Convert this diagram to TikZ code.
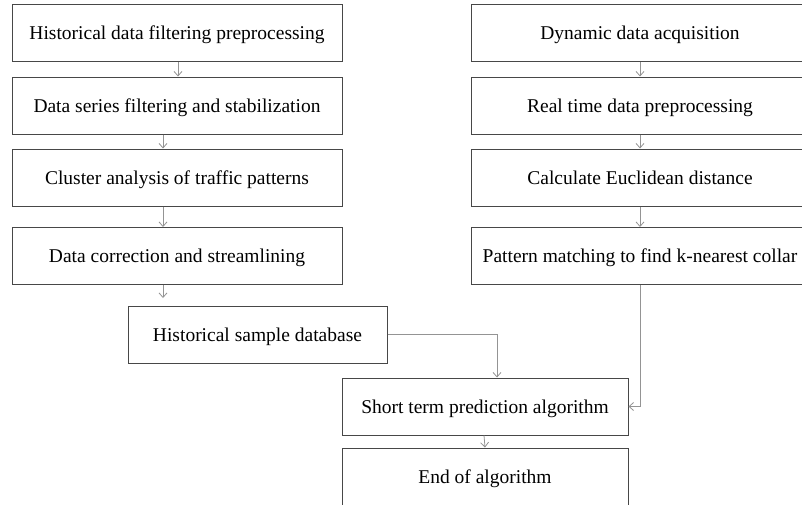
\documentclass[tikz,border=0pt]{standalone}
\usepackage{fontspec}
\setmainfont{Liberation Serif}
\usetikzlibrary{arrows.meta}
\begin{document}
\begin{tikzpicture}[x=1pt,y=-1pt,
  box/.style={draw=black!72,line width=1pt,inner sep=0pt,minimum height=57pt,text height=13.5pt,text depth=0pt,font=\fontsize{19.5}{22}\selectfont,text=black},
  arr/.style={draw=black!42,line width=0.8pt,-{Straight Barb[length=4.5pt,width=8pt]}}]
\useasboundingbox (0,0) rectangle (802,504);
\clip (0,0) rectangle (802,504);
\node[box,minimum width=330pt] (b1) at (177,33) {Historical data filtering preprocessing};
\node[box,minimum width=330pt] (b2) at (177,105.5) {Data series filtering and stabilization};
\node[box,minimum width=330pt] (b3) at (177,177.5) {Cluster analysis of traffic patterns};
\node[box,minimum width=330pt] (b4) at (177,256) {Data correction and streamlining};
\node[box,minimum width=259pt] (hist) at (257.5,334.5) {Historical sample database};
\node[box,minimum width=338pt] (r1) at (640,33) {Dynamic data acquisition};
\node[box,minimum width=338pt] (r2) at (640,105.5) {Real time data preprocessing};
\node[box,minimum width=338pt] (r3) at (640,177.5) {Calculate Euclidean distance};
\node[box,minimum width=338pt] (r4) at (640,256) {Pattern matching to find k-nearest collar};
\node[box,minimum width=286pt] (short) at (485,406.5) {Short term prediction algorithm};
\node[box,minimum width=286pt] (end) at (485,476.5) {End of algorithm};
\coordinate (h4) at (163,298);
\draw[arr] ([xshift=1pt]b1.south) -- ([xshift=1pt]b2.north);
\draw[arr] ([xshift=-14pt]b2.south) -- ([xshift=-14pt]b3.north);
\draw[arr] ([xshift=-14pt]b3.south) -- ([xshift=-14pt]b4.north);
\draw[arr] ([xshift=-14pt]b4.south) -- (h4);
\draw[arr] (r1.south) -- (r2.north);
\draw[arr] (r2.south) -- (r3.north);
\draw[arr] (r3.south) -- (r4.north);
\draw[arr] (hist.east) -| ([xshift=12pt]short.north);
\draw[arr] (r4.south) |- (short.east);
\draw[arr] ([xshift=-1pt]short.south) -- (end.north);
\end{tikzpicture}
\end{document}
